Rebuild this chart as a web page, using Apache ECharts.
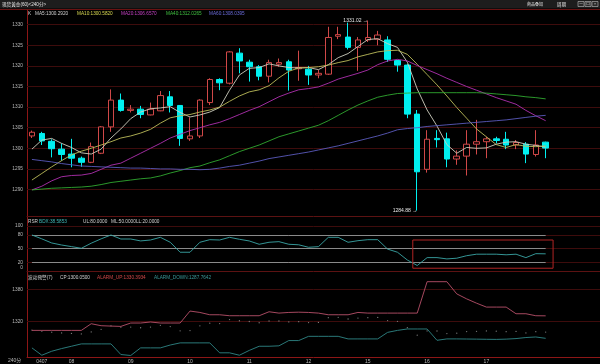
<!DOCTYPE html>
<html><head><meta charset="utf-8">
<script src="https://cdn.jsdelivr.net/npm/echarts@6/dist/echarts.min.js"></script>
<style>html,body{margin:0;padding:0;background:#000;}#c{width:600px;height:364px;}</style>
</head><body><div id="c"></div>
<script>
// ---------- DATA ----------
const opens = [1303.0,1303.6,1301.7,1299.8,1298.6,1297.6,1296.6,1298.8,1305.2,1311.7,
 1309.2,1309.5,1308.1,1309.1,1312.5,1310.4,1302.3,1303.0,1311.1,1316.7,
 1315.8,1323.1,1320.9,1319.8,1317.5,1320.4,1321.0,1319.3,1319.2,1317.8,
 1318.0,1327.2,1327.0,1324.5,1326.3,1326.5,1326.3,1321.3,1320.2,1308.3,
 1294.9,1302.4,1302.3,1297.4,1298.1,1301.0,1301.6,1302.3,1302.2,1300.8,
 1301.0,1298.5,1301.5];
const closes = [1303.9,1301.8,1299.9,1298.5,1297.6,1296.6,1300.4,1305.2,1311.7,1309.2,
 1309.5,1308.2,1309.5,1312.8,1310.4,1302.4,1303.0,1311.7,1316.7,1315.9,
 1323.4,1321.2,1319.8,1317.5,1320.8,1320.8,1319.0,1319.6,1317.8,1318.2,
 1326.9,1327.6,1324.5,1326.3,1326.9,1327.5,1321.6,1320.2,1308.3,1294.3,
 1302.2,1302.1,1297.4,1298.1,1301.0,1301.6,1302.3,1301.9,1300.8,1301.4,
 1298.6,1300.8,1300.05];
const lows = [1302.5,1300.8,1297.8,1297.0,1295.4,1295.5,1296.4,1298.6,1304.0,1308.9,
 1308.7,1307.3,1308.0,1309.0,1308.7,1300.6,1301.8,1302.5,1310.5,1314.1,
 1315.5,1318.2,1316.2,1316.5,1316.0,1319.8,1314.0,1316.4,1315.4,1317.0,
 1317.8,1326.5,1324.0,1318.8,1325.8,1325.0,1321.0,1318.6,1307.3,1284.88,
 1294.1,1300.2,1295.4,1296.0,1293.4,1298.5,1297.6,1301.2,1299.8,1299.8,
 1296.4,1298.0,1297.6];
const highs = [1304.3,1304.0,1302.2,1301.2,1302.3,1298.0,1301.4,1305.4,1314.3,1313.3,
 1310.5,1310.3,1311.1,1313.9,1313.9,1310.5,1307.5,1311.9,1317.0,1317.0,
 1323.6,1324.3,1321.5,1320.2,1321.5,1321.8,1321.5,1323.7,1320.0,1319.0,
 1329.5,1329.5,1330.5,1327.0,1331.02,1328.5,1327.2,1321.5,1320.4,1309.3,
 1304.4,1304.4,1303.8,1299.5,1304.4,1306.9,1302.8,1302.8,1304.0,1302.0,
 1301.5,1304.4,1301.6];

const ma5 = [1299.8,1302.0,1302.4,1301.2,1300.2,1298.9,1298.6,1299.8,1302.5,1304.7,
 1307.2,1308.8,1309.6,1309.8,1310.1,1308.7,1307.6,1308.1,1308.8,1309.9,
 1314.1,1317.8,1319.4,1319.6,1320.5,1320.0,1319.6,1319.5,1319.6,1319.1,
 1320.3,1322.0,1323.0,1324.7,1326.4,1326.6,1325.4,1324.5,1320.9,1314.4,
 1309.3,1305.4,1300.9,1298.8,1300.2,1300.0,1300.1,1301.0,1301.5,1301.6,
 1301.0,1300.7,1300.3];
const ma10 = [1292.3,1293.9,1295.5,1297.0,1298.4,1299.3,1300.0,1300.8,1301.6,1302.5,
 1303.0,1303.7,1304.6,1306.1,1307.4,1307.9,1308.2,1308.8,1309.3,1310.0,
 1311.4,1312.7,1313.7,1314.2,1315.2,1317.1,1318.7,1319.5,1319.6,1319.8,
 1320.2,1320.8,1321.3,1322.2,1322.8,1323.4,1323.7,1323.8,1322.8,1320.4,
 1317.9,1315.4,1312.7,1309.9,1307.3,1304.7,1302.8,1300.9,1300.2,1300.9,
 1300.5,1300.4,1300.6];
const ma20 = [1289.9,1290.8,1292.1,1293.1,1293.4,1293.5,1293.9,1294.9,1295.9,1296.4,
 1297.6,1298.8,1300.0,1301.2,1302.5,1303.4,1304.3,1305.0,1305.7,1306.3,
 1307.2,1308.2,1309.2,1310.1,1311.3,1312.5,1313.4,1314.2,1314.5,1314.9,
 1315.8,1316.8,1317.5,1318.2,1319.0,1320.3,1321.2,1321.6,1321.2,1320.1,
 1319.1,1318.1,1317.0,1316.0,1315.0,1314.1,1313.2,1312.3,1311.5,1310.7,
 1309.2,1307.9,1306.7];
const ma40 = [1289.9,1290.1,1290.3,1290.4,1290.5,1290.6,1290.8,1291.2,1291.7,1292.0,
 1292.3,1292.6,1292.8,1293.3,1294.0,1294.6,1295.3,1295.7,1296.5,1297.2,
 1298.2,1299.2,1300.0,1300.8,1301.8,1302.8,1303.5,1304.2,1304.9,1305.6,
 1306.7,1308.0,1309.3,1310.5,1311.5,1312.4,1312.9,1313.3,1313.4,1313.5,
 1313.5,1313.5,1313.5,1313.5,1313.5,1313.5,1313.4,1313.2,1313.0,1312.8,
 1312.5,1312.3,1312.0];
const ma60 = [1297.3,1297.0,1296.7,1296.3,1296.0,1295.7,1295.6,1295.5,1295.4,1295.3,
 1295.2,1295.2,1295.1,1295.0,1295.0,1294.9,1294.9,1294.8,1294.9,1295.2,
 1295.6,1295.9,1296.4,1296.9,1297.5,1297.9,1298.3,1298.7,1299.1,1299.6,
 1300.1,1300.6,1301.2,1301.8,1302.4,1303.0,1303.7,1304.5,1304.8,1305.0,
 1305.3,1305.5,1305.7,1305.9,1306.1,1306.3,1306.5,1306.7,1306.9,1307.2,
 1307.5,1307.8,1308.0];

const rsr = [80,71.5,62.5,58,54.5,50.8,62,71.5,80,71.2,
 71.2,67,69,74.9,64,42.1,42.1,64,69.7,69,
 74.9,70.6,66.9,59.6,64,65.4,59.6,58.5,53,54.4,
 74.9,74.9,64,67.5,69.7,69.7,49,42.1,25,13,
 30.3,30.3,27.5,29,34.5,37.8,37.8,37.8,36.5,37.8,
 30.3,39,38.6];
const alarmUp = [1303.3,1303.3,1303.3,1303.3,1303.3,1303.3,
 1315.7,1312.0,1311.3,1310.7,1317.0,1317.0,1318.9,1317.0,1317.0,1317.0,
 1339.3,1336.7,1332.4,1332.4,1330.6,1330.6,1330.6,1330.6,1338.0,1335.5,
 1336.7,1337.2,1336.7,1335.5,1332.4,1332.4,1332.4,1336.7,1335.5,1335.5,
 1335.5,1335.5,1335.5,1335.5,1394.0,1394.0,1394.0,1371.3,1362.0,1354.0,
 1346.7,1346.7,1346.7,1334.3,1334.3,1330.6,1330.4];
const alarmDown = [1270.7,1257.0,1264.4,1269.4,1273.7,1278.1,1278.1,1278.1,1278.1,1258.3,
 1256.5,1270.7,1270.7,1270.7,1276.0,1280.0,1280.0,1280.0,1280.0,1261.5,
 1261.5,1257.0,1266.0,1273.7,1273.7,1274.5,1284.3,1284.3,1292.2,1292.2,
 1292.2,1292.2,1287.4,1287.4,1287.4,1287.4,1299.6,1303.3,1305.9,1305.9,
 1305.9,1284.8,1287.4,1287.4,1287.2,1287.0,1286.7,1286.5,1287.0,1288.0,
 1290.0,1291.0,1288.5];

const dayLabels = ['0407','08','09','10','11','12','15','16','17'];
const dayLabelIdx = [1,4,10,16,22,28,34,40,46];
const priceTicks = [1290,1295,1300,1305,1310,1315,1320,1325,1330];
const rsrTicks = [0,20,50,80,100];
const rsrGrid = [100,80,50,20];
const rsrLevels = [80,50,20];
const alarmTicks = [1320,1380];
const emptySlots = 5;
const rsrBox = [38.55, 52.75, 69, 7];   // annotation box in data space: x from, x to, y top, y bottom

const maLegend = [['MA5','1300.2920'],['MA10','1300.5820'],['MA20','1306.6570'],['MA40','1312.0265'],['MA60','1308.0395']];
const rsrLegend = [['RSR',''],['BDX','38.5853'],['UL','80.0000'],['ML','50.0000'],['LL','20.0000']];
const alarmLegend = [['波动预警(7)',''],['CP','1300.0500'],['ALARM_UP','1330.3934'],['ALARM_DOWN','1287.7642']];

// ---------- CHART ----------
const FONT = "'Liberation Sans','Noto Sans CJK SC',sans-serif";
const cats = Array.from({length: closes.length + emptySlots}, (_, i) => String(i));
const candles = opens.map((o, i) => [o, closes[i], lows[i], highs[i]]);
const hiIdx = highs.indexOf(Math.max(...highs));
const loIdx = lows.indexOf(Math.min(...lows));

const GRID_RED = '#3e0c0c';
const AXIS_RED = '#8c1616';
const LBL = '#b8b8b8';
const LEG_FS = 4.7;

function gridLines(vals, color) {
  return {silent: true, symbol: ['none','none'], z: 1, label: {show: false},
    lineStyle: {color: color, width: 1, type: 'solid'}, emphasis: {disabled: true},
    data: vals.map(v => ({yAxis: v}))};
}
function xAxisCfg(idx, showLabels) {
  return {type: 'category', gridIndex: idx, data: cats, boundaryGap: true,
    axisLine: {show: true, lineStyle: {color: idx === 2 ? AXIS_RED : '#5c1212', width: 1}},
    axisTick: {show: false}, splitLine: {show: false},
    axisLabel: showLabels ? {show: true, interval: 0, color: LBL, fontSize: 5, fontFamily: FONT, margin: 2,
      formatter: (v, i) => { const k = dayLabelIdx.indexOf(i); return k >= 0 ? dayLabels[k] : ''; }} : {show: false}};
}
function yAxisCfg(idx, min, max, ticks, fmt) {
  return {type: 'value', gridIndex: idx, min: min, max: max, scale: true,
    axisLine: {show: true, lineStyle: {color: AXIS_RED, width: 1}},
    axisTick: {show: false}, splitLine: {show: false},
    axisLabel: {show: true, customValues: ticks, color: LBL, fontSize: 4.8, fontFamily: FONT, margin: 4,
      formatter: fmt || (v => String(v)), rich: {lo: {fontSize: 4.8, color: LBL, fontFamily: FONT, padding: [0,0,7,0]}}}};
}

const chart = echarts.init(document.getElementById('c'), null, {renderer: 'canvas'});

const legendGraphics = [];
// title bar
legendGraphics.push({type: 'rect', shape: {x: 0, y: 0, width: 600, height: 8.5}, style: {fill: '#1d1d1d'}, z: 0});
legendGraphics.push({type: 'line', shape: {x1: 0, y1: 9.5, x2: 600, y2: 9.5}, style: {stroke: '#6a1212', lineWidth: 1}});
legendGraphics.push({type: 'text', x: 2, y: 4.5, style: {text: '现货黄金(60)<240分>', fill: '#e6e6e6', fontSize: 4.6, fontFamily: FONT, verticalAlign: 'middle'}});
legendGraphics.push({type: 'text', x: 527, y: 4.5, style: {text: '商品叠加', fill: '#e6e6e6', fontSize: 4, fontFamily: FONT, verticalAlign: 'middle'}});
legendGraphics.push({type: 'text', x: 557, y: 4.5, style: {text: '周期', fill: '#e6e6e6', fontSize: 4.5, fontFamily: FONT, verticalAlign: 'middle'}});
[578, 585, 592].forEach((x, k) => {
  legendGraphics.push({type: 'rect', shape: {x: x, y: 1.5, width: 6, height: 5}, style: {fill: '#2a2a2a', stroke: '#bdbdbd', lineWidth: 0.6}});
  legendGraphics.push({type: 'text', x: x + 3, y: 4.2, style: {text: ['一','口','×'][k], fill: '#dddddd', fontSize: 3.6, fontFamily: FONT, align: 'center', verticalAlign: 'middle'}});
});
// main legend
const maColorsTxt = ['#d0d0d0','#d8d850','#c440c4','#40c040','#6a6ad8'];
legendGraphics.push({type: 'text', x: 28, y: 13.5, style: {text: 'K', fill: '#d0d0d0', fontSize: LEG_FS, fontFamily: FONT, verticalAlign: 'middle'}});
const maX = [35, 77, 121, 166, 209];
maLegend.forEach((m, k) => legendGraphics.push({type: 'text', x: maX[k], y: 13.5,
  style: {text: m[0] + ':' + m[1], fill: maColorsTxt[k], fontSize: LEG_FS, fontFamily: FONT, verticalAlign: 'middle'}}));
// rsr legend
const rsrX = [28, 39, 83, 111, 136];
const rsrCol = ['#d0d0d0', '#40b8b8', '#d0d0d0', '#d0d0d0', '#d0d0d0'];
rsrLegend.forEach((m, k) => legendGraphics.push({type: 'text', x: rsrX[k], y: 222, style: {text: m[1] ? m[0] + ':' + m[1] : m[0], fill: rsrCol[k], fontSize: LEG_FS, fontFamily: FONT, verticalAlign: 'middle'}}));
// alarm legend
const alX = [28, 60, 97, 154];
const alCol = ['#d0d0d0', '#d0d0d0', '#d04848', '#3a9a9a'];
alarmLegend.forEach((m, k) => legendGraphics.push({type: 'text', x: alX[k], y: 277.3, style: {text: m[1] ? m[0] + ':' + m[1] : m[0], fill: alCol[k], fontSize: LEG_FS, fontFamily: FONT, verticalAlign: 'middle'}}));
legendGraphics.push({type: 'text', x: 8, y: 360.5, style: {text: '240分', fill: LBL, fontSize: 5, fontFamily: FONT, verticalAlign: 'middle'}});

const option = {
  backgroundColor: '#000',
  animation: false,
  grid: [
    {left: 27, width: 574, top: 10, height: 206.7},
    {left: 27, width: 574, top: 216.7, height: 56.3},
    {left: 27, width: 574, top: 273, height: 84.5}
  ],
  xAxis: [xAxisCfg(0, false), xAxisCfg(1, false), xAxisCfg(2, true)],
  yAxis: [
    yAxisCfg(0, 1283.4, 1333.57, priceTicks),
    yAxisCfg(1, -3.5, 120.2, rsrTicks, v => v === 0 ? '{lo|0}' : String(v)),
    yAxisCfg(2, 1253.7, 1410.2, alarmTicks)
  ],
  series: [
    {type: 'candlestick', name: 'K', xAxisIndex: 0, yAxisIndex: 0, data: candles, barWidth: 6,
      itemStyle: {color: '#000000', color0: '#00f0f0', borderColor: '#d04848', borderColor0: '#00f0f0', borderWidth: 1},
      emphasis: {disabled: true},
      markLine: gridLines(priceTicks, GRID_RED),
      markPoint: {symbol: 'circle', symbolSize: 0, silent: true,
        label: {show: true, position: 'left', distance: 0, color: '#e8e8e8', fontSize: 5, fontFamily: FONT,
          formatter: p => p.value.toFixed(2) + ' →'},
        data: [{coord: [String(hiIdx), highs[hiIdx]], value: highs[hiIdx]},
               {coord: [String(loIdx), lows[loIdx]], value: lows[loIdx]}]}},
    {type: 'line', name: 'MA5', xAxisIndex: 0, yAxisIndex: 0, data: ma5, showSymbol: false, lineStyle: {color: '#cfcfc0', width: 0.9}, emphasis: {disabled: true}},
    {type: 'line', name: 'MA10', xAxisIndex: 0, yAxisIndex: 0, data: ma10, showSymbol: false, lineStyle: {color: '#bcbc5a', width: 0.9}, emphasis: {disabled: true}},
    {type: 'line', name: 'MA20', xAxisIndex: 0, yAxisIndex: 0, data: ma20, showSymbol: false, lineStyle: {color: '#b030b0', width: 0.9}, emphasis: {disabled: true}},
    {type: 'line', name: 'MA40', xAxisIndex: 0, yAxisIndex: 0, data: ma40, showSymbol: false, lineStyle: {color: '#30a830', width: 0.9}, emphasis: {disabled: true}},
    {type: 'line', name: 'MA60', xAxisIndex: 0, yAxisIndex: 0, data: ma60, showSymbol: false, lineStyle: {color: '#5a5abc', width: 0.9}, emphasis: {disabled: true}},
    {type: 'line', name: 'RSR', xAxisIndex: 1, yAxisIndex: 1, data: rsr, showSymbol: false, lineStyle: {color: '#3aa6a6', width: 0.9}, emphasis: {disabled: true}, z: 3,
      markLine: {silent: true, symbol: ['none','none'], z: 1, label: {show: false}, emphasis: {disabled: true},
        data: rsrGrid.map(v => ({yAxis: v, lineStyle: {color: GRID_RED, width: 1, type: 'solid'}})).concat(
          rsrLevels.map(v => [{coord: ['0', v], lineStyle: {color: '#8a8a8a', width: 1, type: 'solid'}}, {coord: [String(rsr.length - 1), v]}]))}},
    {type: 'line', name: 'ALARM_UP', xAxisIndex: 2, yAxisIndex: 2, data: alarmUp, showSymbol: false, lineStyle: {color: '#b8506a', width: 0.9}, emphasis: {disabled: true},
      markLine: gridLines(alarmTicks, GRID_RED)},
    {type: 'line', name: 'ALARM_DOWN', xAxisIndex: 2, yAxisIndex: 2, data: alarmDown, showSymbol: false, lineStyle: {color: '#2f8686', width: 0.9}, emphasis: {disabled: true}},
    {type: 'scatter', name: 'CP', xAxisIndex: 2, yAxisIndex: 2, data: closes, symbolSize: 1.3, itemStyle: {color: '#9a9a9a'}, emphasis: {disabled: true}}
  ],
  graphic: legendGraphics
};
chart.setOption(option);

// annotation box on RSR panel, placed from data coordinates
const p0 = chart.convertToPixel({xAxisIndex: 1, yAxisIndex: 1}, [String(Math.floor(rsrBox[0])), rsrBox[2]]);
const p1 = chart.convertToPixel({xAxisIndex: 1, yAxisIndex: 1}, [String(Math.floor(rsrBox[0]) + 1), rsrBox[3]]);
const slot = p1[0] - p0[0];
const bx0 = p0[0] + (rsrBox[0] - Math.floor(rsrBox[0])) * slot;
const bx1 = p0[0] + (rsrBox[1] - Math.floor(rsrBox[0])) * slot;
legendGraphics.push({type: 'rect', shape: {x: bx0, y: p0[1], width: bx1 - bx0, height: p1[1] - p0[1]}, style: {fill: 'none', stroke: '#b02424', lineWidth: 1}, z: 10});
chart.setOption({graphic: legendGraphics}, {replaceMerge: ['graphic']});
</script></body></html>
